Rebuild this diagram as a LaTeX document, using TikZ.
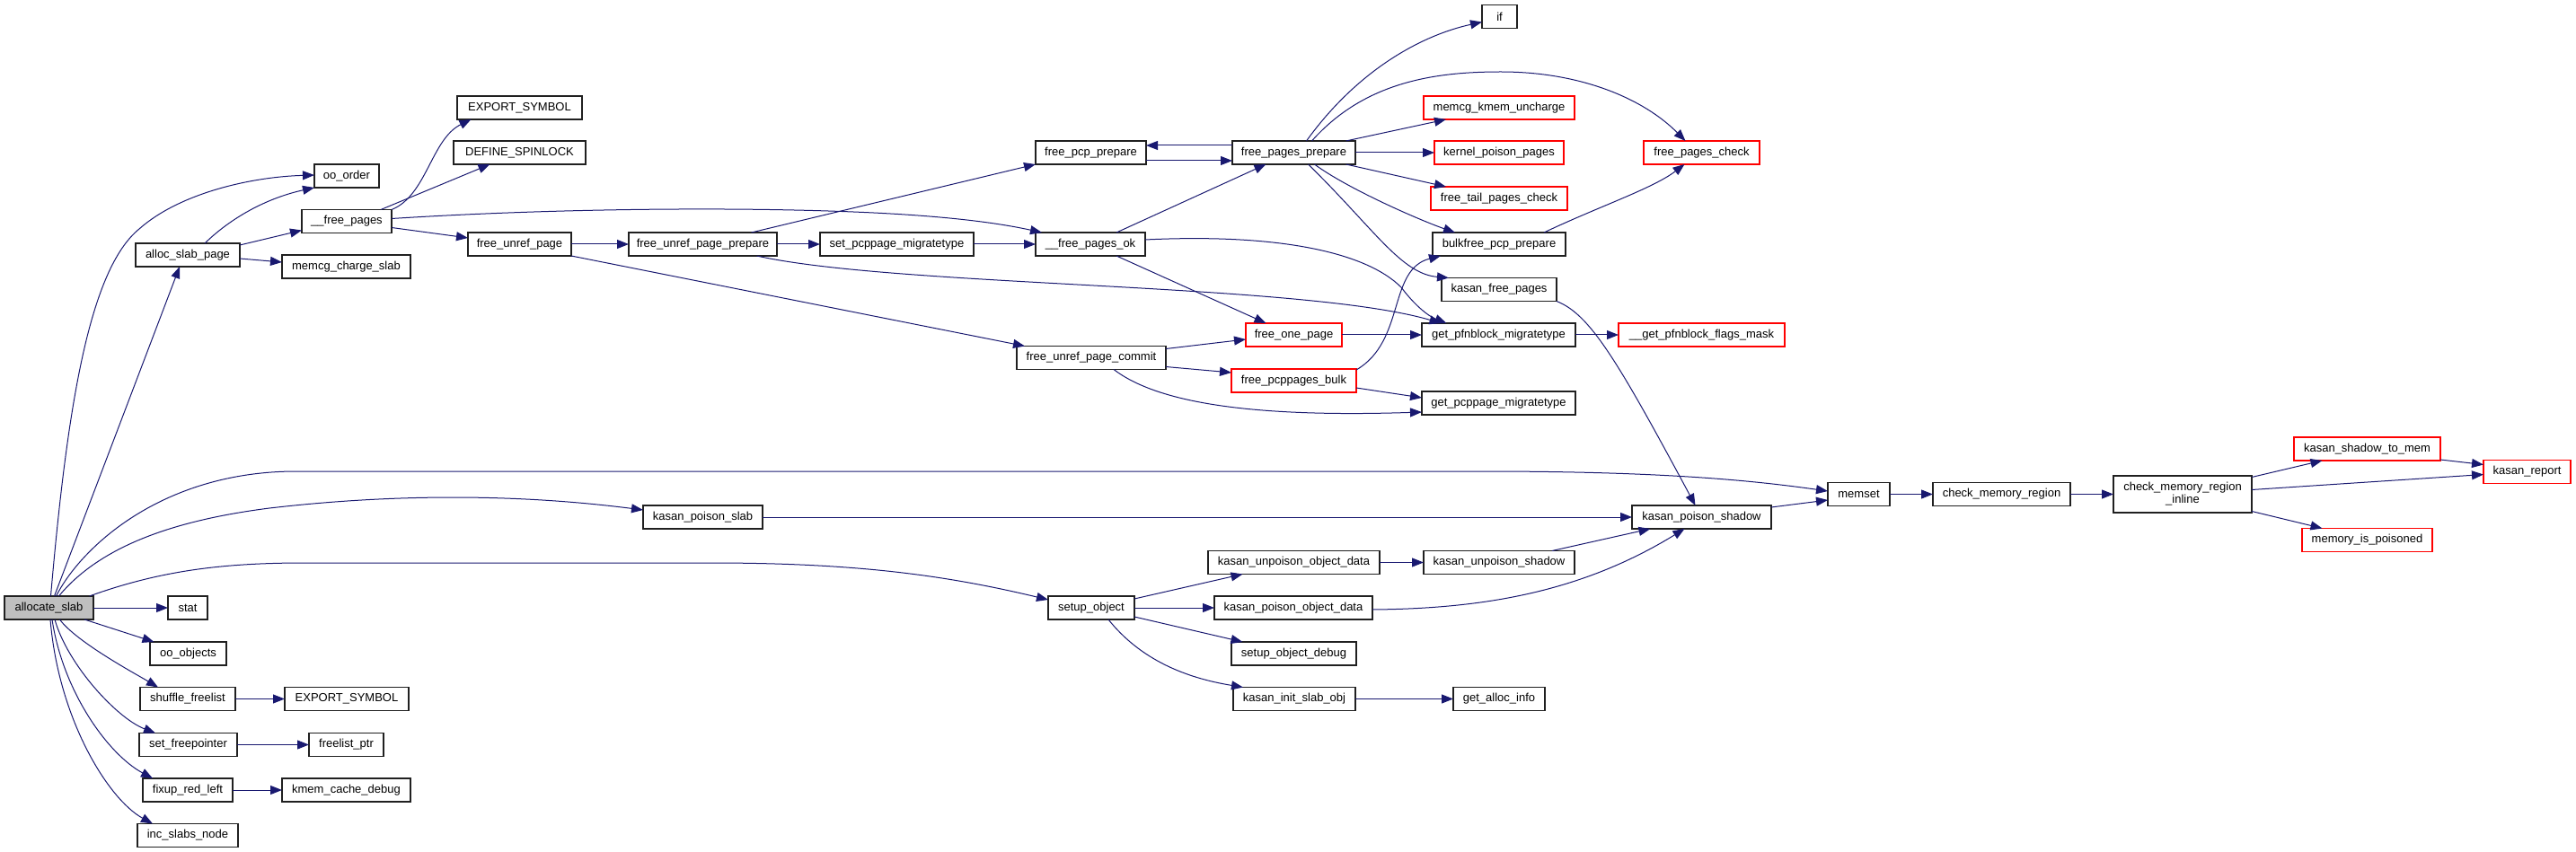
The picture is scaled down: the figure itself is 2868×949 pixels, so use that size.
\documentclass[tikz,border=0pt]{standalone}
\usepackage{fontspec}
\setmainfont{Liberation Sans}
\usetikzlibrary{arrows.meta}
\definecolor{edgec}{HTML}{191970}
\definecolor{grayf}{HTML}{BFBFBF}
\definecolor{boxc}{HTML}{202020}
\begin{document}
\begin{tikzpicture}[x=1pt,y=-1pt,
  nbox/.style={draw=boxc, line width=1.2pt, fill=white, inner sep=0pt, outer sep=0pt,
    minimum height=26pt, font=\fontsize{13pt}{14pt}\selectfont, align=center},
  redbox/.style={nbox, draw=red},
  call/.style={draw=edgec, line width=1pt, -{Triangle[length=13pt,width=10pt]}}]
\useasboundingbox (0,0) rectangle (2868,949);
% nodes
\node[nbox, fill=grayf, minimum width=99pt] (as) at (54.5,677) {allocate\_slab};
\node[nbox, minimum width=116pt] (asp) at (209,284) {alloc\_slab\_page};
\node[nbox, minimum width=72pt] (oo) at (386,196) {oo\_order};
\node[nbox, minimum width=100pt] (fp) at (386,246.5) {\_\_free\_pages};
\node[nbox, minimum width=143pt] (mcs) at (385.5,297) {memcg\_charge\_slab};
\node[nbox, minimum width=139pt] (es1) at (578.5,120) {EXPORT\_SYMBOL};
\node[nbox, minimum width=147pt] (ds) at (578.5,170) {DEFINE\_SPINLOCK};
\node[nbox, minimum width=115pt] (fup) at (578.5,272) {free\_unref\_page};
\node[nbox, minimum width=165pt] (fupp) at (782.5,272) {free\_unref\_page\_prepare};
\node[nbox, minimum width=171pt] (spm) at (998.5,272) {set\_pcppage\_migratetype};
\node[nbox, minimum width=123pt] (fpcp) at (1214.5,170) {free\_pcp\_prepare};
\node[nbox, minimum width=122pt] (fpok) at (1214,272) {\_\_free\_pages\_ok};
\node[nbox, minimum width=166pt] (fupc) at (1215,398.5) {free\_unref\_page\_commit};
\node[nbox, minimum width=137pt] (fpp) at (1440.5,170) {free\_pages\_prepare};
\node[redbox, minimum width=107pt] (fop) at (1440.5,373) {free\_one\_page};
\node[redbox, minimum width=139pt] (fpb) at (1440.5,424) {free\_pcppages\_bulk};
\node[nbox, minimum width=39pt] (ifn) at (1669.5,18.5) {if};
\node[redbox, minimum width=168pt] (mku) at (1669,120) {memcg\_kmem\_uncharge};
\node[redbox, minimum width=144pt] (kpp) at (1669,170) {kernel\_poison\_pages};
\node[redbox, minimum width=152pt] (ftpc) at (1669,221) {free\_tail\_pages\_check};
\node[nbox, minimum width=148pt] (bpp) at (1669,272) {bulkfree\_pcp\_prepare};
\node[nbox, minimum width=128pt] (kfp) at (1669,322.5) {kasan\_free\_pages};
\node[nbox, minimum width=171pt] (gpm) at (1668.5,373) {get\_pfnblock\_migratetype};
\node[nbox, minimum width=171pt] (gcm) at (1668.5,449) {get\_pcppage\_migratetype};
\node[redbox, minimum width=129pt] (fpc) at (1894.5,170) {free\_pages\_check};
\node[redbox, minimum width=185pt] (gpfm) at (1894.5,373) {\_\_get\_pfnblock\_flags\_mask};
\node[nbox, minimum width=155pt] (kps) at (1894.5,576) {kasan\_poison\_shadow};
\node[nbox, minimum width=133pt] (kpsl) at (782.5,576) {kasan\_poison\_slab};
\node[nbox, minimum width=96pt] (so) at (1215,677) {setup\_object};
\node[nbox, minimum width=191pt] (kuod) at (1440.5,626.5) {kasan\_unpoison\_object\_data};
\node[nbox, minimum width=176pt] (kpod) at (1440,677) {kasan\_poison\_object\_data};
\node[nbox, minimum width=139pt] (sod) at (1440.5,728) {setup\_object\_debug};
\node[nbox, minimum width=136pt] (kiso) at (1441,778.5) {kasan\_init\_slab\_obj};
\node[nbox, minimum width=168pt] (kus) at (1669,626.5) {kasan\_unpoison\_shadow};
\node[nbox, minimum width=102pt] (gai) at (1669,778.5) {get\_alloc\_info};
\node[nbox, minimum width=69pt] (ms) at (2069.5,550.5) {memset};
\node[nbox, minimum width=153pt] (cmr) at (2228.5,550.5) {check\_memory\_region};
\node[nbox, minimum width=154pt, minimum height=41pt] (cmri) at (2430,550.5) {check\_memory\_region\\\_inline};
\node[redbox, minimum width=163pt] (kstm) at (2635.5,500) {kasan\_shadow\_to\_mem};
\node[redbox, minimum width=97pt] (kr) at (2813.5,525.5) {kasan\_report};
\node[redbox, minimum width=145pt] (mip) at (2635.5,601.5) {memory\_is\_poisoned};
\node[nbox, minimum width=44pt] (stat) at (209,677) {stat};
\node[nbox, minimum width=85pt] (ooo) at (209.5,728) {oo\_objects};
\node[nbox, minimum width=106pt] (sf) at (209,778.5) {shuffle\_freelist};
\node[nbox, minimum width=138pt] (es2) at (386,778.5) {EXPORT\_SYMBOL};
\node[nbox, minimum width=109pt] (sfp) at (209.5,829.5) {set\_freepointer};
\node[nbox, minimum width=83pt] (flp) at (385.5,829.5) {freelist\_ptr};
\node[nbox, minimum width=100pt] (frl) at (209,880) {fixup\_red\_left};
\node[nbox, minimum width=143pt] (kcd) at (385.5,880) {kmem\_cache\_debug};
\node[nbox, minimum width=112pt] (isn) at (209,930.5) {inc\_slabs\_node};
% edges from allocate_slab
\draw[call] ([xshift=2pt]as.north) .. controls (75,450) and (100,300) .. (155,255) .. controls (200,215) and (280,197) .. ([yshift=1pt]oo.west);
\draw[call] ([xshift=6pt]as.north) -- ([xshift=-9pt]asp.south);
\draw[call] ([xshift=8pt]as.north) .. controls (90,610) and (180,525) .. (330,525) -- (1650,525) .. controls (1850,525) and (1950,535) .. ([yshift=3.5pt]ms.west);
\draw[call] ([xshift=11pt]as.north) .. controls (110,610) and (190,580) .. (300,566) .. controls (420,552) and (560,548) .. ([yshift=8pt]kpsl.west);
\draw[call] ([xshift=45pt]as.north) .. controls (180,635) and (250,627) .. (340,627) -- (790,627) .. controls (950,627) and (1050,640) .. ([yshift=9pt]so.west);
\draw[call] (as.east) -- (stat.west);
\draw[call] ([xshift=39.5pt]as.south) -- ([xshift=-38pt]ooo.north);
\draw[call] ([xshift=12pt]as.south) .. controls (85,715) and (150,750) .. ([xshift=-33pt]sf.north);
\draw[call] ([xshift=6.5pt]as.south) .. controls (75,740) and (130,800) .. ([xshift=-36.5pt]sfp.north);
\draw[call] ([xshift=3.5pt]as.south) .. controls (70,770) and (120,840) .. ([xshift=-39pt]frl.north);
\draw[call] ([xshift=1.5pt]as.south) .. controls (65,800) and (120,890) .. ([xshift=-39pt]isn.north);
% alloc_slab_page
\draw[call] ([xshift=19pt]asp.north) .. controls (260,240) and (300,220) .. (oo.south west);
\draw[call] ([yshift=11pt]asp.east) -- ([yshift=-10pt]fp.west);
\draw[call] ([yshift=-4pt]asp.east) -- ([yshift=5pt]mcs.west);
% __free_pages
\draw[call] (fp.north east) .. controls (475,218) and (480,155) .. ([xshift=-54pt]es1.south);
\draw[call] ([xshift=38pt]fp.north) -- ([xshift=-33pt]ds.south);
\draw[call] ([yshift=3pt]fp.east) .. controls (600,233) and (800,230) .. (950,236) .. controls (1050,240) and (1110,248) .. ([xshift=-54pt]fpok.north);
\draw[call] ([yshift=-7pt]fp.east) -- ([yshift=7pt]fup.west);
% free_unref_page
\draw[call] (fup.east) -- (fupp.west);
\draw[call] (fup.south east) -- ([xshift=-74pt]fupc.north);
% free_unref_page_prepare
\draw[call] ([xshift=54pt]fupp.north) -- (fpcp.south west);
\draw[call] (fupp.east) -- (spm.west);
\draw[call] ([xshift=60pt]fupp.south) .. controls (1000,320) and (1450,315) .. ([xshift=-64pt]gpm.north);
\draw[call] (spm.east) -- (fpok.west);
% free_pcp_prepare / free_pages_prepare
\draw[call] ([yshift=-9pt]fpcp.east) -- ([yshift=-9pt]fpp.west);
\draw[call] ([yshift=8pt]fpp.west) -- ([yshift=8pt]fpcp.east);
% __free_pages_ok
\draw[call] ([xshift=29pt]fpok.north) -- ([xshift=-31pt]fpp.south);
\draw[call] ([xshift=29pt]fpok.south) -- ([xshift=-31pt]fop.north);
\draw[call] ([yshift=5pt]fpok.east) .. controls (1420,260) and (1520,280) .. (1560,320) .. controls (1575,340) and (1590,352) .. ([xshift=-58pt]gpm.north);
% free_pages_prepare
\draw[call] ([xshift=14pt]fpp.north) .. controls (1510,80) and (1580,40) .. ([yshift=-6pt]ifn.west);
\draw[call] ([xshift=20pt]fpp.north) .. controls (1520,90) and (1600,80) .. (1671,80) .. controls (1760,80) and (1830,110) .. ([xshift=-18pt]fpc.north);
\draw[call] ([xshift=58pt]fpp.north) -- ([xshift=-59pt]mku.south);
\draw[call] (fpp.east) -- (kpp.west);
\draw[call] ([xshift=58pt]fpp.south) -- ([xshift=-59pt]ftpc.north);
\draw[call] ([xshift=23pt]fpp.south) .. controls (1500,210) and (1580,245) .. ([xshift=-49pt]bpp.north);
\draw[call] ([xshift=16pt]fpp.south) .. controls (1530,255) and (1560,305) .. ([xshift=-56pt]kfp.north);
% bulkfree / kasan_free_pages
\draw[call] ([xshift=50pt]bpp.north) .. controls (1780,230) and (1840,210) .. ([xshift=-19pt]fpc.south);
\draw[call] (kfp.south east) .. controls (1770,350) and (1800,400) .. ([xshift=-7pt]kps.north);
% free_unref_page_commit
\draw[call] ([yshift=10pt]fupc.east) -- ([yshift=-5pt]fop.west);
\draw[call] ([yshift=-10pt]fupc.east) -- ([yshift=9pt]fpb.west);
\draw[call] ([xshift=25pt]fupc.south) .. controls (1290,450) and (1400,465) .. ([yshift=-10pt]gcm.west);
% free_one_page / free_pcppages_bulk
\draw[call] (fop.east) -- (gpm.west);
\draw[call] ([yshift=12pt]fpb.east) .. controls (1565,380) and (1545,300) .. ([xshift=-65pt]bpp.south);
\draw[call] ([yshift=-8pt]fpb.east) -- ([yshift=6pt]gcm.west);
\draw[call] (gpm.east) -- (gpfm.west);
% kasan
\draw[call] (kpsl.east) -- (kps.west);
\draw[call] ([yshift=11pt]kps.east) -- ([yshift=-6.5pt]ms.west);
\draw[call] (ms.east) -- (cmr.west);
\draw[call] (cmr.east) -- (cmri.west);
\draw[call] ([yshift=19pt]cmri.east) -- ([xshift=-50pt]kstm.south);
\draw[call] ([yshift=5pt]cmri.east) -- ([yshift=-3pt]kr.west);
\draw[call] ([yshift=-19pt]cmri.east) -- ([xshift=-50pt]mip.north);
\draw[call] ([yshift=-12pt]kstm.east) -- ([yshift=8pt]kr.west);
% setup_object
\draw[call] ([yshift=10pt]so.east) -- ([xshift=-57pt]kuod.south);
\draw[call] (so.east) -- (kpod.west);
\draw[call] ([yshift=-10pt]so.east) -- ([xshift=-57pt]sod.north);
\draw[call] ([xshift=19pt]so.south) .. controls (1270,735) and (1320,755) .. ([xshift=-57pt]kiso.north);
\draw[call] (kuod.east) -- (kus.west);
\draw[call] ([xshift=59pt]kus.north) -- ([xshift=-57pt]kps.south);
\draw[call] ([yshift=-2pt]kpod.east) .. controls (1650,678) and (1760,660) .. ([xshift=-19pt]kps.south);
\draw[call] (kiso.east) -- (gai.west);
% small chains
\draw[call] (sf.east) -- (es2.west);
\draw[call] (sfp.east) -- (flp.west);
\draw[call] (frl.east) -- (kcd.west);
\end{tikzpicture}
\end{document}
